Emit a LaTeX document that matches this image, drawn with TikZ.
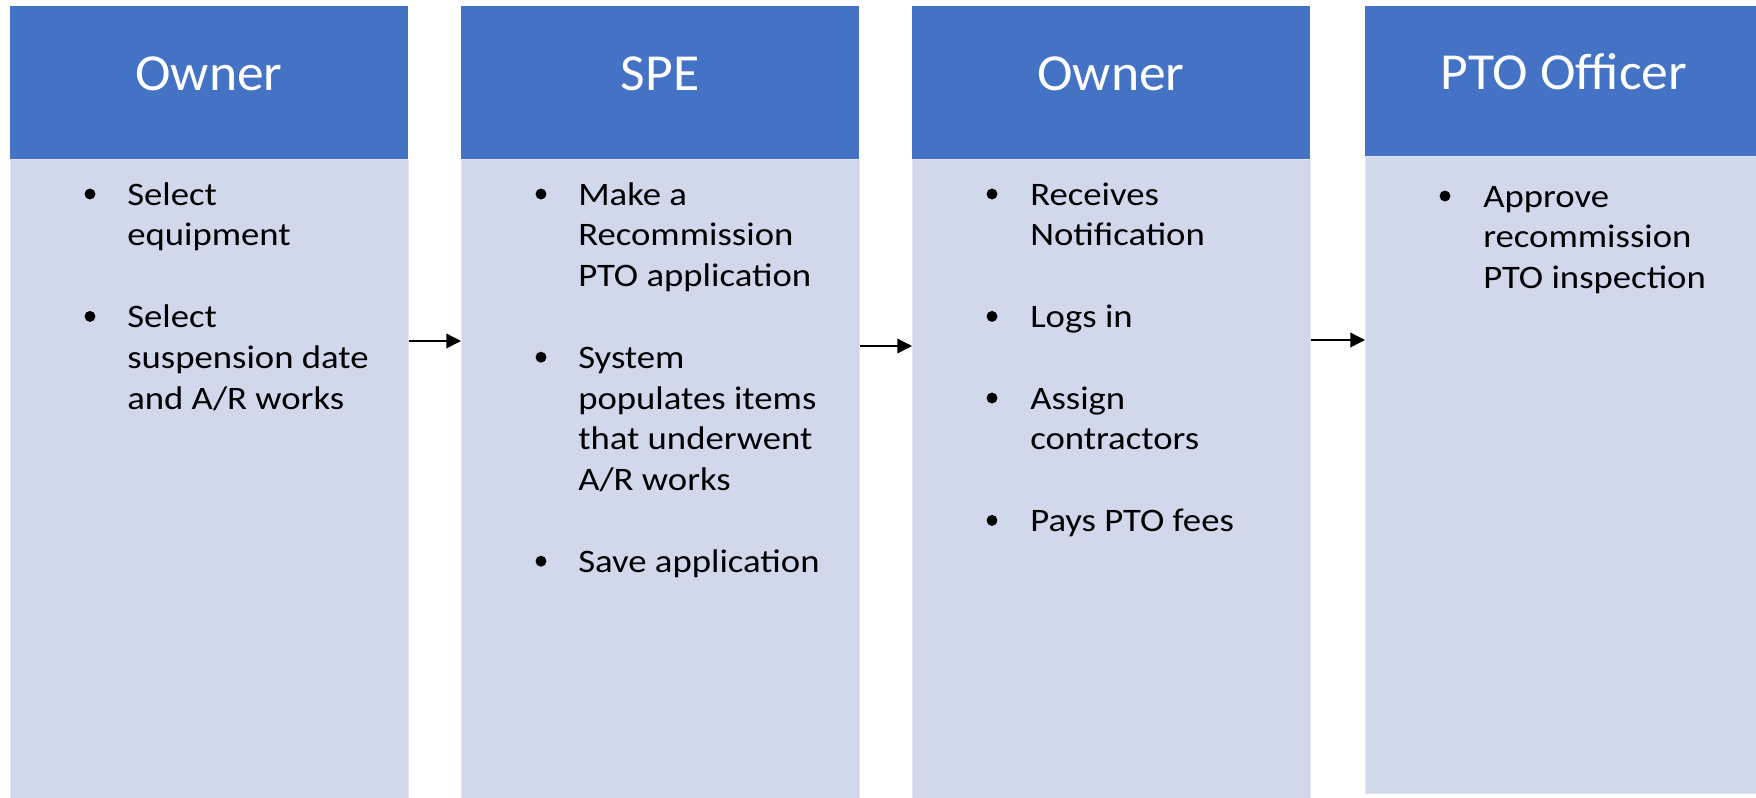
\documentclass[tikz,border=0pt]{standalone}
\usepackage{fontspec}
\setmainfont{Carlito}
\newfontfamily\bodyfont[FakeStretch=1.12]{Carlito}
\newfontfamily\headfont[FakeStretch=1.03]{Carlito}
\usetikzlibrary{arrows.meta}
\definecolor{hdrblue}{HTML}{4472C4}
\definecolor{bodyfill}{HTML}{D2D8EB}
\definecolor{bodyedge}{HTML}{E2E6F3}
\tikzset{
  hdr/.style={rectangle, fill=hdrblue, draw=none, anchor=north west, inner sep=0pt,
              minimum width=398*0.75pt},
  bodybox/.style={rectangle, fill=bodyfill, draw=bodyedge, line width=0.8pt, anchor=north west,
              inner sep=0pt, minimum width=398*0.75pt},
  hdrtext/.style={text=white, font=\headfont\fontsize{39}{47}\selectfont, anchor=base, inner sep=0pt},
  bodytext/.style={text=black, font=\bodyfont\fontsize{24.6}{30}\selectfont, anchor=base west, inner sep=0pt},
  arr/.style={-{Triangle[length=11pt,width=11pt]}, line width=1pt, black},
}
\newcommand\txl[4]{\node[bodytext] (#1) at (#2,#3) {#4};}
\newcommand\bul[2]{\fill[black] (#1+80,#2-11) circle[radius=4.1pt];}
\begin{document}
\begin{tikzpicture}[x=0.75pt,y=-0.75pt]
\useasboundingbox (0,0) rectangle (1756,797);
\begin{scope}
\clip (0,0) rectangle (1756,797);
% column 1
\node[bodybox, minimum height=645*0.75pt] (b1) at (10,159) {};
\node[hdr, minimum height=153*0.75pt] (h1) at (10,6) {};
% column 2
\node[bodybox, minimum height=645*0.75pt] (b2) at (461,159) {};
\node[hdr, minimum height=153*0.75pt] (h2) at (461,6) {};
% column 3
\node[bodybox, minimum height=645*0.75pt] (b3) at (912,159) {};
\node[hdr, minimum height=153*0.75pt] (h3) at (912,6) {};
% column 4
\node[bodybox, minimum height=637*0.75pt] (b4) at (1365,156) {};
\node[hdr, minimum height=150*0.75pt] (h4) at (1365,6) {};
\end{scope}

\node[hdrtext] (t1) at (209,90) {Owner};
\node[hdrtext] (t2) at (660,90) {SPE};
\node[hdrtext] (t3) at (1111,90) {Owner};
\node[hdrtext] (t4) at (1564,89) {PTO Officer};

% column 1 text
\bul{10}{205}
\txl{c1a}{127}{205}{Select}
\txl{c1b}{127}{245.8}{equipment}
\bul{10}{327.4}
\txl{c1c}{127}{327.4}{Select}
\txl{c1d}{127}{368.2}{suspension date}
\txl{c1e}{127}{409}{and A/R works}

% column 2 text
\bul{461}{205}
\txl{c2a}{578}{205}{Make a}
\txl{c2b}{578}{245.8}{Recommission}
\txl{c2c}{578}{286.6}{PTO application}
\bul{461}{368.2}
\txl{c2d}{578}{368.2}{System}
\txl{c2e}{578}{409}{populates items}
\txl{c2f}{578}{449.8}{that underwent}
\txl{c2g}{578}{490.6}{A/R works}
\bul{461}{572.2}
\txl{c2h}{578}{572.2}{Save application}

% column 3 text
\bul{912}{205}
\txl{c3a}{1030}{205}{Receives}
\txl{c3b}{1030}{245.8}{Notification}
\bul{912}{327.4}
\txl{c3c}{1030}{327.4}{Logs in}
\bul{912}{409}
\txl{c3d}{1030}{409}{Assign}
\txl{c3e}{1030}{449.8}{contractors}
\bul{912}{531.4}
\txl{c3f}{1030}{531.4}{Pays PTO fees}

% column 4 text
\bul{1365}{207}
\txl{c4a}{1483}{207}{Approve}
\txl{c4b}{1483}{247.8}{recommission}
\txl{c4c}{1483}{288.6}{PTO inspection}

% arrows
\draw[arr] (b1.east |- 0,341) -- (b2.west |- 0,341);
\draw[arr] (b2.east |- 0,346) -- (b3.west |- 0,346);
\draw[arr] (b3.east |- 0,340) -- (b4.west |- 0,340);
\end{tikzpicture}
\end{document}
